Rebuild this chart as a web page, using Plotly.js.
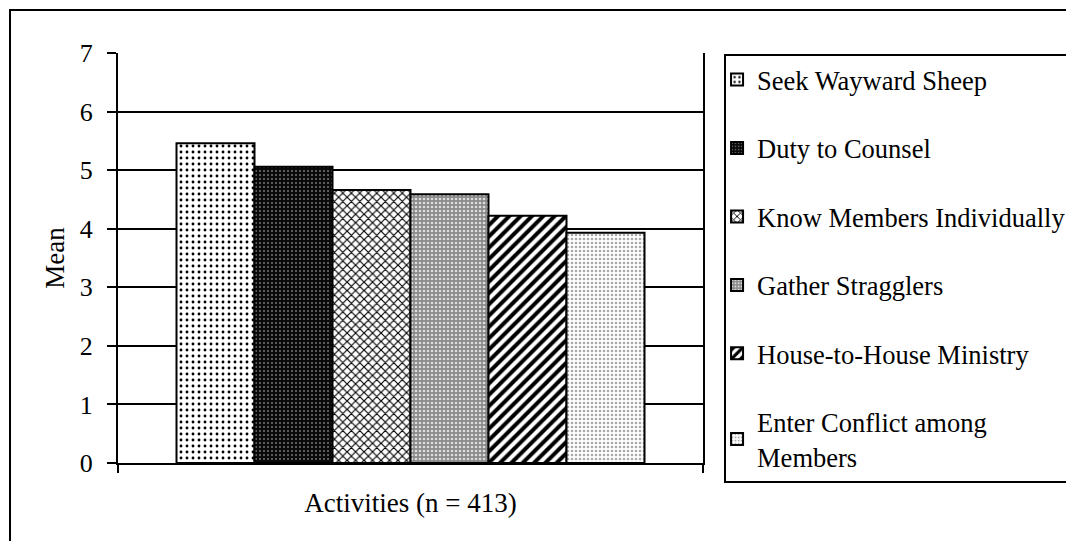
<!DOCTYPE html>
<html>
<head>
<meta charset="utf-8">
<script src="https://cdn.plot.ly/plotly-3.0.1.min.js"></script>
<style>html,body{margin:0;padding:0;background:#fff;}#chart{width:1066px;height:541px;}</style>
</head>
<body>
<div id="chart"></div>
<script>
const category = ["Activities (n = 413)"];
const seriesNames = ["Seek Wayward Sheep", "Duty to Counsel", "Know Members Individually", "Gather Stragglers", "House-to-House Ministry", "Enter Conflict among<br>Members"];
const seriesValues = [5.46, 5.06, 4.66, 4.59, 4.22, 3.93];
const yTicks = [0, 1, 2, 3, 4, 5, 6, 7];

const patterns = [
  {shape: ".", fgcolor: "#000", bgcolor: "#fff", size: 6, solidity: 0.18},
  {shape: ".", fgcolor: "#777", bgcolor: "#0a0a0a", size: 4, solidity: 0.2},
  {shape: "x", fgcolor: "#000", bgcolor: "#fff", size: 6, solidity: 0.35},
  {shape: ".", fgcolor: "#ddd", bgcolor: "#8a8a8a", size: 4, solidity: 0.35},
  {shape: "/", fgcolor: "#000", bgcolor: "#fff", size: 8, solidity: 0.5},
  {shape: ".", fgcolor: "#aaa", bgcolor: "#fff", size: 4, solidity: 0.35}
];

const FONT = "Liberation Serif, Times New Roman, serif";

const data = seriesNames.map((name, i) => ({
  type: "bar",
  name: name,
  x: category,
  y: [seriesValues[i]],
  legendgroup: "g" + i,
  marker: {
    color: patterns[i].bgcolor,
    pattern: patterns[i],
    line: {color: "#000", width: 2}
  },
  hoverinfo: "skip"
}));

const layout = {
  width: 1066,
  height: 541,
  margin: {l: 118, r: 363, t: 53, b: 78, autoexpand: false},
  paper_bgcolor: "#fff",
  plot_bgcolor: "#fff",
  font: {family: FONT, color: "#000", size: 26},
  barmode: "group",
  bargap: 0.2,
  bargroupgap: 0,
  showlegend: true,
  legend: {
    x: 1.036, xanchor: "left",
    y: 0.998, yanchor: "top",
    bgcolor: "#fff",
    bordercolor: "#000",
    borderwidth: 2,
    font: {family: FONT, size: 26.5, color: "#000"},
    traceorder: "grouped",
    tracegroupgap: 31,
    indentation: -9,
    maxheight: 520
  },
  xaxis: {
    type: "category",
    showticklabels: false,
    ticks: "outside",
    tickson: "boundaries",
    ticklen: 8,
    tickwidth: 2,
    tickcolor: "#000",
    showline: true,
    linecolor: "#000",
    linewidth: 2,
    showgrid: false,
    zeroline: false,
    title: {text: "Activities (n = 413)", font: {family: FONT, size: 27, color: "#000"}, standoff: 29}
  },
  yaxis: {
    range: [0, 7],
    tickmode: "array",
    tickvals: yTicks,
    ticktext: yTicks.map(String),
    ticks: "outside",
    ticklen: 9,
    tickwidth: 2,
    tickcolor: "#000",
    ticklabelstandoff: 9,
    tickfont: {family: FONT, size: 26, color: "#000"},
    showline: true,
    mirror: true,
    linecolor: "#000",
    linewidth: 2,
    showgrid: true,
    gridcolor: "#000",
    gridwidth: 2,
    zeroline: false,
    title: {text: "Mean", font: {family: FONT, size: 27, color: "#000"}, standoff: 7}
  },
  shapes: [{
    type: "rect", xref: "paper", yref: "paper",
    x0: -0.1846, x1: 1.8, y0: -0.4, y1: 1.1049,
    line: {color: "#000", width: 2},
    fillcolor: "rgba(0,0,0,0)",
    layer: "below"
  }]
};

Plotly.newPlot("chart", data, layout, {displayModeBar: false, staticPlot: true});
</script>
</body>
</html>
